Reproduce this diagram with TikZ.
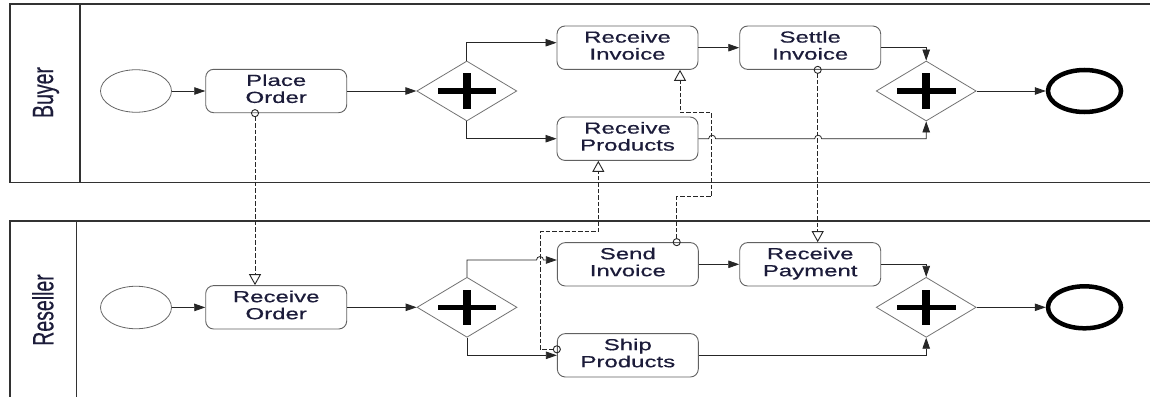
\documentclass[tikz,border=0pt]{standalone}
\usepackage{fontspec}
\setmainfont{Liberation Sans}
\newfontfamily\labelfont[FakeBold=0.5]{Liberation Sans}
\usepackage{graphicx}
\usetikzlibrary{shapes.geometric,arrows.meta,calc}

\definecolor{inkc}{RGB}{28,28,58}
\definecolor{poolc}{RGB}{50,50,50}

% two-line task caption, widened
\newcommand\tasklabel[2]{\scalebox{1.5}[1]{\labelfont\fontsize{16}{17}\selectfont\begin{tabular}{@{}c@{}}#1\\#2\end{tabular}}}
% lane caption, rotated afterwards, widened across the lane
\newcommand\lanelabel[1]{\scalebox{1}[1.5]{\labelfont\fontsize{19.5}{21}\selectfont #1}}

\tikzset{
  pool/.style={draw=poolc, line width=1.2pt},
  task/.style={rectangle, rounded corners=8pt, draw=black!62, line width=0.9pt,
    fill=white, minimum width=141pt, minimum height=43.4pt, inner sep=0pt,
    text=inkc},
  gate/.style={diamond, draw=black!55, line width=0.8pt, fill=white,
    minimum width=100pt, minimum height=60pt, inner sep=0pt,
    path picture={
      \fill[black] ($(path picture bounding box.center)+(-29.3pt,-2.8pt)$) rectangle ($(path picture bounding box.center)+(29.3pt,2.8pt)$);
      \fill[black] ($(path picture bounding box.center)+(-4pt,-17.8pt)$) rectangle ($(path picture bounding box.center)+(4pt,17.8pt)$);
    }},
  startev/.style={ellipse, draw=black!60, line width=0.8pt, fill=white,
    minimum width=71pt, minimum height=42.5pt, inner sep=0pt},
  endev/.style={ellipse, draw=black, line width=4.5pt, fill=white,
    minimum width=73pt, minimum height=42pt, inner sep=0pt},
  seq/.style={draw=black!85, line width=0.8pt, -{Triangle[length=11pt,width=7.5pt]}},
  msg/.style={draw=black!85, line width=0.9pt, dash pattern=on 4.5pt off 2pt,
    {Circle[open,length=8pt,width=8pt]}-{Triangle[open,length=11pt,width=12pt]}},
  lane/.style={rotate=90, anchor=base, inner sep=0pt, text=inkc},
}

\begin{document}
\begin{tikzpicture}[x=1pt,y=1pt]
\useasboundingbox (0,0) rectangle (1150,-396);
\clip (0,0) rectangle (1150,-396);
\fill[white] (0,0) rectangle (1150,-396);

% pools
\draw[pool] (10,-4) rectangle (1170,-182.3);
\draw[pool] (80,-4) -- (80,-182.3);
\draw[pool] (10,-221) rectangle (1170,-420);
\draw[pool] (76.7,-221) -- (76.7,-420);
\node[lane] (buyerlbl) at (53,-92.5) {\lanelabel{Buyer}};
\node[lane] (resellerlbl) at (53.3,-310) {\lanelabel{Reseller}};

% Buyer process
\node[startev] (s1) at (136,-91) {};
\node[task] (po) at (276.2,-91) {\tasklabel{Place}{Order}};
\node[gate] (g1) at (466.8,-91) {};
\node[task] (ri) at (627.5,-47.7) {\tasklabel{Receive}{Invoice}};
\node[task] (rp) at (627.5,-138.7) {\tasklabel{Receive}{Products}};
\node[task] (st) at (810.2,-47.7) {\tasklabel{Settle}{Invoice}};
\node[gate] (j1) at (926.2,-91) {};
\node[endev] (e1) at (1084.5,-91) {};

% Reseller process
\node[startev] (s2) at (136,-307.5) {};
\node[task] (ro) at (276.2,-307.3) {\tasklabel{Receive}{Order}};
\node[gate] (g2) at (467,-307.3) {};
\node[task] (si) at (627.8,-264.3) {\tasklabel{Send}{Invoice}};
\node[task] (sp) at (627.8,-355.3) {\tasklabel{Ship}{Products}};
\node[task] (rpay) at (810.2,-264.3) {\tasklabel{Receive}{Payment}};
\node[gate] (j2) at (926.2,-307.3) {};
\node[endev] (e2) at (1084.5,-307.3) {};

% sequence flows, Buyer
\draw[seq] (s1) -- (po);
\draw[seq] (po) -- (g1);
\draw[seq] (g1.north) |- ([yshift=5pt]ri.west);
\draw[seq] (g1.south) |- (rp.west);
\draw[seq] (ri) -- (st);
\draw[seq] (st.east) -| (j1.north);
\draw[seq] (rp.east) -- ++(10.2,0) arc[start angle=180,end angle=0,radius=3.5]
  -- ++(99,0) arc[start angle=180,end angle=0,radius=3.5]
  -- (j1.south |- rp.east) -- (j1.south);
\draw[seq] (j1) -- (e1);

% sequence flows, Reseller
\draw[seq] (s2) -- (ro);
\draw[seq] (ro) -- (g2);
\draw[seq] (g2.north) |- (536.5,-260) arc[start angle=180,end angle=0,radius=3.5]
  -- ([yshift=4.3pt]si.west);
\draw[seq] (g2.south) |- (sp.west);
\draw[seq] (si) -- (rpay);
\draw[seq] (rpay.east) -| (j2.north);
\draw[seq] (sp.east) -| (j2.south);
\draw[seq] (j2) -- (e2);

% message flows
\draw[msg] ([xshift=-21.2pt,yshift=4pt]po.south) -- ([xshift=-21.2pt]ro.north);
\draw[msg] ([xshift=4pt,yshift=6pt]sp.west) -| (540,-231.7) -| ([xshift=-29.2pt]rp.south);
\draw[msg] ([xshift=48.9pt,yshift=-4pt]si.north) |- (711.7,-196.7) |- (680,-112.7)
  -- ([xshift=52.5pt]ri.south);
\draw[msg] ([xshift=7.5pt,yshift=4pt]st.south) -- ([xshift=7.5pt]rpay.north);
\end{tikzpicture}
\end{document}
